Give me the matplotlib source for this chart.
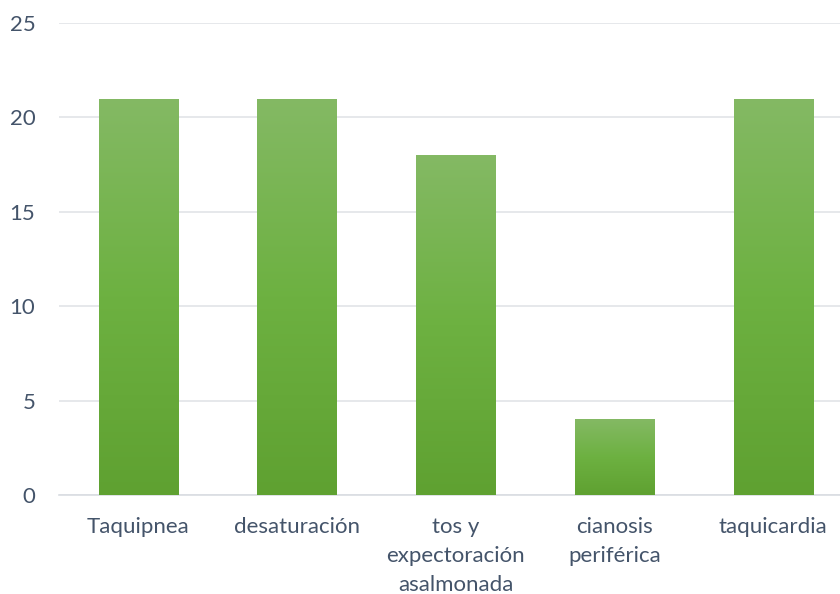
import numpy as np
import matplotlib
matplotlib.use("Agg")
import matplotlib.pyplot as plt
from matplotlib.colors import LinearSegmentedColormap

categories = ["Taquipnea", "desaturación", "tos y\nexpectoración\nasalmonada",
              "cianosis\nperiférica", "taquicardia"]
values = [21, 21, 18, 4, 21]
yticks = [0, 5, 10, 15, 20, 25]

text_color = "#44546A"
grid_color = "#E1E4E8"

plt.rcParams["font.family"] = ["Lato", "DejaVu Sans"]

fig = plt.figure(figsize=(8.4, 5.94), dpi=100)
ax = fig.add_axes([0.0702, 0.1667, 0.9298, 0.7946])

x = np.arange(len(categories))
bars = ax.bar(x, values, width=0.5, color="none", edgecolor="none", zorder=3)

# vertical gradient fill inside each bar: light at the top, darker at the bottom
cmap = LinearSegmentedColormap.from_list("grn", ["#5FA131", "#6DB141", "#84B964"])
grad = np.linspace(0, 1, 256).reshape(-1, 1)
for b in bars:
    x0, y0 = b.get_x(), b.get_y()
    w, h = b.get_width(), b.get_height()
    im = ax.imshow(grad, cmap=cmap, origin="lower", aspect="auto",
                   extent=[x0, x0 + w, y0, y0 + h], zorder=3, interpolation="bilinear")
    im.set_clip_path(b)

ax.set_xlim(-0.5, 4.42)
ax.set_ylim(0, 25)
ax.set_yticks(yticks)
ax.set_xticks(x)
ax.set_xticklabels(categories, linespacing=1.55)
ax.yaxis.grid(True, color=grid_color, linewidth=1.2, zorder=0)
ax.set_axisbelow(True)
for s in ["top", "right", "left"]:
    ax.spines[s].set_visible(False)
ax.spines["bottom"].set_color("#D9DDE2")
ax.spines["bottom"].set_linewidth(1.2)
ax.tick_params(axis="both", length=0, labelsize=16, colors=text_color)
ax.tick_params(axis="y", pad=17)
ax.tick_params(axis="x", pad=16)
for lbl in ax.get_xticklabels():
    lbl.set_verticalalignment("top")

fig.savefig("out.png", dpi=100)
